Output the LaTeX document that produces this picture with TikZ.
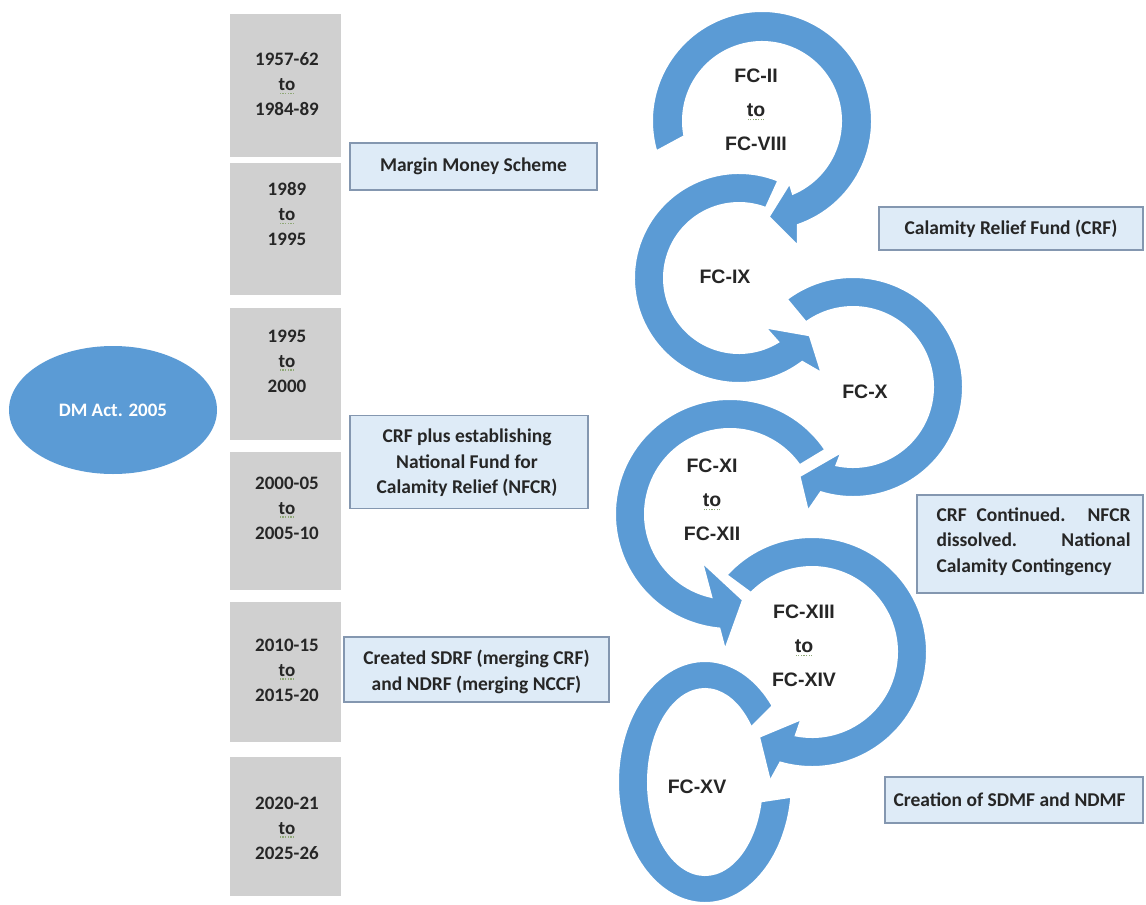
\documentclass[tikz,border=0pt]{standalone}
\usepackage{fontspec}
\setmainfont{Carlito}
\newfontfamily\fcfont{Liberation Sans}
\usetikzlibrary{shapes.geometric}
\definecolor{ringblue}{HTML}{5B9BD5}
\definecolor{boxgray}{HTML}{D0D0D0}
\definecolor{notefill}{HTML}{DEEBF7}
\definecolor{noteedge}{HTML}{8497B0}
\definecolor{txt}{HTML}{262626}
\definecolor{squig}{HTML}{8FA877}
\newcommand\sqto{\leavevmode\setbox0=\hbox{to}\rlap{\raisebox{-3.5pt}{\color{squig}\hbox to \wd0{\xleaders\hbox to 2.5pt{\hss\rule{1.2pt}{1.2pt}\hss}\hfill}}}\box0}
\tikzset{
  yearbox/.style={fill=boxgray, draw=none, anchor=north west, inner sep=0pt},
  yeartext/.style={font=\bfseries\fontsize{19}{25}\selectfont, align=center, text=txt},
  note/.style={draw=noteedge, line width=1.3pt, fill=notefill, inner sep=0pt},
  notetext/.style={font=\bfseries\fontsize{19.5}{25.5}\selectfont, align=center, text=txt},
  fclabel/.style={font=\fcfont\bfseries\fontsize{19.5}{34}\selectfont, align=center, text=txt},
  ring/.style={fill=ringblue, draw=white, line width=2pt, line join=miter},
}
\begin{document}
\begin{tikzpicture}[x=1pt,y=1pt]
\fill[white] (0,0) rectangle (1146,-905);
\useasboundingbox (0,0) rectangle (1146,-905);

% year boxes
\node[yearbox, minimum width=111pt, minimum height=143pt] (y1) at (230,-14) {};
\node[yearbox, minimum width=111pt, minimum height=132pt] (y2) at (230,-163) {};
\node[yearbox, minimum width=111pt, minimum height=132pt] (y3) at (230,-308) {};
\node[yearbox, minimum width=111pt, minimum height=138pt] (y4) at (230,-452) {};
\node[yearbox, minimum width=111pt, minimum height=140pt] (y5) at (230,-602) {};
\node[yearbox, minimum width=111pt, minimum height=139pt] (y6) at (230,-757) {};
\node[yeartext] (t1) at (287,-84) {1957-62\\\sqto\\1984-89};
\node[yeartext] (t2) at (287,-214) {1989\\\sqto\\1995};
\node[yeartext] (t3) at (287,-361) {1995\\\sqto\\2000};
\node[yeartext] (t4) at (287,-508) {2000-05\\\sqto\\2005-10};
\node[yeartext] (t5) at (287,-670) {2010-15\\\sqto\\2015-20};
\node[yeartext] (t6) at (287,-828) {2020-21\\\sqto\\2025-26};

% DM Act ellipse
\node[ellipse, fill=ringblue, minimum width=208pt, minimum height=128pt, inner sep=0pt,
      text=white, font=\bfseries\fontsize{19}{24}\selectfont] (dm) at (113,-410) {DM Act. 2005};

% notes
\node[note, minimum width=247pt, minimum height=47pt] (n1) at (473.5,-166.5) {};
\node[notetext] (n1t) at (473.5,-166.5) {Margin Money Scheme};
\node[note, minimum width=264pt, minimum height=43pt] (n2) at (1011,-228.5) {};
\node[notetext] (n2t) at (1011,-228.5) {Calamity Relief Fund (CRF)};
\node[note, minimum width=238pt, minimum height=93pt] (n3) at (469,-462) {};
\node[notetext] (n3t) at (467,-463) {CRF plus establishing\\National Fund for\\Calamity Relief (NFCR)};
\node[note, minimum width=226pt, minimum height=98pt] (n4) at (1030,-544) {};
\node[notetext, align=left, anchor=north west] (n4t) at (933,-504) {\makebox[194pt][s]{CRF Continued. NFCR}\\\makebox[194pt][s]{dissolved. National}\\Calamity Contingency};
\node[note, minimum width=265pt, minimum height=65pt] (n5) at (476.5,-669.5) {};
\node[notetext] (n5t) at (476.5,-672) {Created SDRF (merging CRF)\\and NDRF (merging NCCF)};
\node[note, minimum width=258pt, minimum height=46pt] (n6) at (1014,-800) {};
\node[notetext, anchor=west] (n6t) at (890,-800) {Creation of SDMF and NDMF};

% circular arrows
\begin{scope}[shift={(762,-121)}]
\filldraw[ring] (196:110) arc[start angle=196, end angle=-71, radius=110] -- (-74:130) -- (-86:96) -- (-66:68) -- (-67:79) arc[start angle=-67, end angle=191, radius=79] -- cycle;
\end{scope}
\begin{scope}[shift={(739,-278)}]
\filldraw[ring] (68:105) arc[start angle=68, end angle=307, radius=105] -- (311:126) -- (321:91) -- (298:56) -- (301.5:75) arc[start angle=301.5, end angle=69, radius=75] -- cycle;
\end{scope}
\begin{scope}[shift={(853,-387)}]
\filldraw[ring] (127:110) arc[start angle=127, end angle=-107, radius=110] -- (-110:132) -- (-121:104) -- (-100:66) -- (-102:80) arc[start angle=-102, end angle=126, radius=80] -- cycle;
\end{scope}
\begin{scope}[shift={(730,-514)}]
\filldraw[ring] (34:115) arc[start angle=34, end angle=264.7, radius=115] -- (-5,-136) -- (13,-86) -- (-28,-48) -- (257.3:85) arc[start angle=257.3, end angle=35, radius=85] -- cycle;
\end{scope}
\begin{scope}[shift={(812,-652)}]
\filldraw[ring] (138:115) arc[start angle=138, end angle=-106, radius=115] -- (-108:136) -- (-122:100) -- (-99:68) -- (-101:85) arc[start angle=-101, end angle=136, radius=85] -- cycle;
\end{scope}
\begin{scope}[shift={(705,-782)}]
\filldraw[ring] (39:87 and 121) arc[start angle=39, end angle=353, x radius=87, y radius=121] -- (348:57 and 93) arc[start angle=348, end angle=36, x radius=57, y radius=93] -- cycle;
\end{scope}

% FC labels
\node[fclabel] (fa) at (756,-110) {FC-II\\\sqto\\FC-VIII};
\node[fclabel] (fb) at (725,-277) {FC-IX};
\node[fclabel] (fc) at (865,-392) {FC-X};
\node[fclabel] (fd) at (712,-500) {FC-XI\\\sqto\\FC-XII};
\node[fclabel] (fe) at (804,-646) {FC-XIII\\\sqto\\FC-XIV};
\node[fclabel] (ff) at (697,-787) {FC-XV};
\end{tikzpicture}
\end{document}
